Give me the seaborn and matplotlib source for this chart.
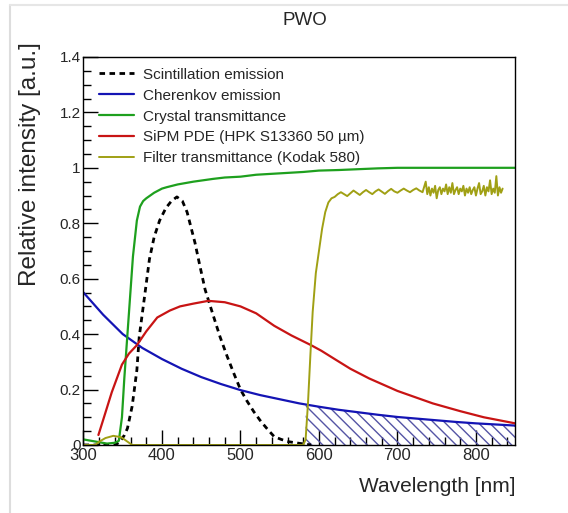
import numpy as np
import pandas as pd
import matplotlib
matplotlib.use('Agg')
import matplotlib.pyplot as plt
import seaborn as sns
from matplotlib.lines import Line2D
from matplotlib.ticker import MultipleLocator, FuncFormatter

sns.set_style('ticks')
plt.rcParams['font.family'] = ['Liberation Sans', 'DejaVu Sans']
plt.rcParams['hatch.linewidth'] = 1.0

# Scintillation emission (PWO)
scint_nm = [300, 340, 346, 352, 356, 362, 368, 371, 378, 384, 390, 397, 405, 412, 419, 426, 432,
            442, 448, 455, 465, 474, 483, 492, 500, 508, 517, 526, 535, 543, 552, 561, 570, 580, 590]
scint_val = [0.0, 0.0, 0.01, 0.035, 0.06, 0.14, 0.27, 0.39, 0.54, 0.67, 0.75, 0.81, 0.855, 0.88, 0.895,
             0.88, 0.84, 0.73, 0.65, 0.56, 0.47, 0.39, 0.32, 0.255, 0.20, 0.16, 0.12, 0.085, 0.055,
             0.03, 0.02, 0.012, 0.008, 0.004, 0.0]

# Cherenkov emission
cher_nm = [300, 325, 350, 375, 400, 425, 450, 475, 500, 525, 550, 575, 600, 625, 650, 675, 700,
           725, 750, 775, 800, 825, 850]
cher_val = [0.55, 0.47, 0.40, 0.35, 0.31, 0.275, 0.245, 0.22, 0.198, 0.18, 0.165, 0.15, 0.138,
            0.127, 0.118, 0.109, 0.101, 0.095, 0.089, 0.083, 0.078, 0.074, 0.07]

# Crystal transmittance
cryst_nm = [300, 310, 320, 330, 340, 345, 349, 352, 355, 358, 363, 368, 372, 376, 380, 390, 400, 406,
            420, 440, 465, 480, 500, 520, 550, 580, 600, 625, 650, 675, 700, 750, 800, 850]
cryst_val = [0.02, 0.015, 0.01, 0.005, 0.008, 0.015, 0.1, 0.24, 0.36, 0.48, 0.68, 0.81, 0.86, 0.88,
             0.89, 0.91, 0.925, 0.93, 0.94, 0.95, 0.96, 0.965, 0.968, 0.975, 0.98, 0.985, 0.99,
             0.992, 0.995, 0.998, 1.0, 1.0, 1.0, 1.0]

# SiPM PDE (HPK S13360 50 um)
pde_nm = [319, 325, 336, 349, 358, 368, 380, 394, 410, 423, 440, 459, 480, 500, 520, 543, 565, 590,
          603, 620, 640, 664, 700, 745, 780, 810, 850]
pde_val = [0.036, 0.09, 0.19, 0.29, 0.33, 0.36, 0.41, 0.46, 0.485, 0.50, 0.51, 0.52, 0.515, 0.50,
           0.475, 0.43, 0.395, 0.36, 0.34, 0.31, 0.275, 0.24, 0.195, 0.15, 0.122, 0.10, 0.078]

# Filter transmittance (Kodak 580)
filt_nm = [300, 315, 320, 328, 338, 348, 356, 362, 580, 583, 586, 589, 592, 596, 600, 604, 608, 612,
           616, 620, 624, 628, 632, 636, 640, 644, 648, 652, 656, 660, 664, 668, 672, 676, 680, 684,
           688, 692, 696, 700, 704, 708, 712, 716, 720, 724, 728, 732,
           736, 738, 740, 742, 744, 746, 748, 750, 752, 754, 756, 758, 760, 762, 764, 766, 768, 770,
           772, 774, 776, 778, 780, 782, 784, 786, 788, 790, 792, 794, 796, 798, 800, 802, 804, 806,
           808, 810, 812, 814, 816, 818, 820, 822, 824, 826, 828, 830, 832, 834]
filt_val = [0.0, 0.0, 0.012, 0.025, 0.033, 0.028, 0.012, 0.0, 0.0, 0.02, 0.15, 0.32, 0.48, 0.62,
            0.70, 0.78, 0.84, 0.875, 0.89, 0.895, 0.905, 0.912, 0.905, 0.898, 0.908, 0.918, 0.91,
            0.902, 0.912, 0.92, 0.912, 0.905, 0.915, 0.922, 0.914, 0.906, 0.916, 0.924, 0.915, 0.91,
            0.918, 0.925, 0.918, 0.912, 0.92, 0.926, 0.918, 0.912,
            0.95, 0.905, 0.93, 0.9, 0.925, 0.91, 0.935, 0.89, 0.92, 0.93, 0.905, 0.925, 0.915,
            0.94, 0.905, 0.93, 0.91, 0.945, 0.905, 0.92, 0.93, 0.905, 0.925, 0.915, 0.935, 0.9, 0.925,
            0.91, 0.93, 0.905, 0.92, 0.93, 0.9, 0.925, 0.945, 0.905, 0.915, 0.935, 0.9, 0.93, 0.915,
            0.955, 0.905, 0.925, 0.91, 0.97, 0.9, 0.93, 0.91, 0.925]

hatch_from = 583

fig = plt.figure(figsize=(5.68, 5.13), dpi=100)
ax = fig.add_axes([0.147, 0.1326, 0.76, 0.7564])

sns.lineplot(x=scint_nm, y=scint_val, ax=ax, color='black', lw=2, linestyle=(0, (2, 1.6)),
             label='Scintillation emission')
sns.lineplot(x=cher_nm, y=cher_val, ax=ax, color='#1414b4', lw=1.6, label='Cherenkov emission')
sns.lineplot(x=cryst_nm, y=cryst_val, ax=ax, color='#1ea01e', lw=1.6, label='Crystal transmittance')
sns.lineplot(x=pde_nm, y=pde_val, ax=ax, color='#c81414', lw=1.6,
             label='SiPM PDE (HPK S13360 50 \u00b5m)')
sns.lineplot(x=filt_nm, y=filt_val, ax=ax, color='#a0a014', lw=1.4,
             label='Filter transmittance (Kodak 580)')

# hatched Cherenkov part above the filter edge
cx = np.array(cher_nm, dtype=float)
cy = np.array(cher_val)
hx = np.concatenate([[hatch_from], cx[cx > hatch_from]])
hy = np.interp(hx, cx, cy)
ax.fill_between(hx, 0, hy, facecolor='none', edgecolor='#5555a5', hatch='\\\\\\', linewidth=0)

ax.set_xlim(300, 850)
ax.set_ylim(0, 1.4)
ax.xaxis.set_major_locator(MultipleLocator(100))
ax.xaxis.set_minor_locator(MultipleLocator(20))
ax.yaxis.set_major_locator(MultipleLocator(0.2))
ax.yaxis.set_minor_locator(MultipleLocator(0.05))
ax.yaxis.set_major_formatter(FuncFormatter(lambda v, p: '%g' % round(v, 2)))
ax.tick_params(which='both', direction='in', top=False, right=False, color='black')
ax.tick_params(which='major', length=11, width=1)
ax.tick_params(which='minor', length=6, width=1)
ax.tick_params(axis='x', labelsize=12, pad=2)
ax.tick_params(axis='y', labelsize=11, pad=2)
for s in ax.spines.values():
    s.set_color('black')
    s.set_linewidth(1)
ax.set_xlabel('')
ax.set_ylabel('')

leg = ax.legend(loc='upper left', bbox_to_anchor=(0.035, 0.972), frameon=False, fontsize=11,
                handlelength=2.3, handletextpad=0.6, labelspacing=0.45, borderpad=0, borderaxespad=0)

fig.text(0.537, 0.961, 'PWO', ha='center', va='center', fontsize=13.5)
fig.text(0.907, 0.051, 'Wavelength [nm]', ha='right', va='center', fontsize=15)
fig.text(0.053, 0.918, 'Relative intensity [a.u.]', ha='center', va='top', rotation=90, fontsize=17.5)

# faint frame of the canvas
fig.add_artist(Line2D([0.018, 0.018], [0.0, 0.99], color='#dddddd', lw=1.5, transform=fig.transFigure))
fig.add_artist(Line2D([0.018, 1.0], [0.99, 0.99], color='#e6e6e6', lw=1.5, transform=fig.transFigure))

fig.savefig('out.png', dpi=100)
